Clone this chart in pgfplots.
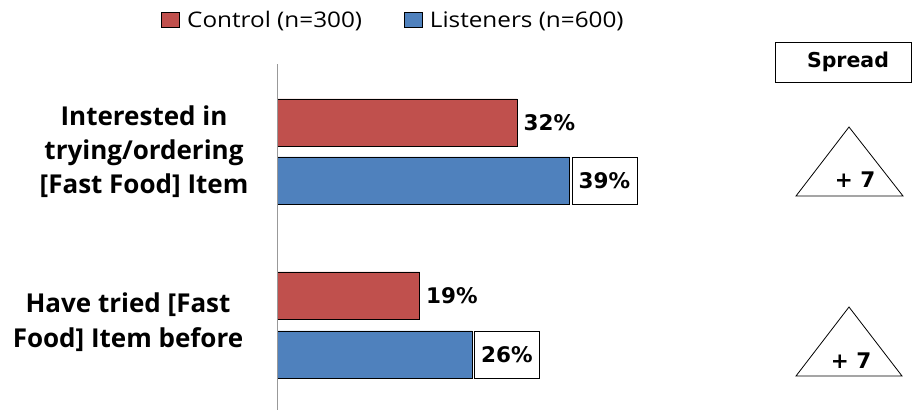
\documentclass[border=0pt]{standalone}
\usepackage{pgfplots}
\pgfplotsset{compat=1.18}
\usepackage{fontspec}
\setmainfont{Open Sans}
\newfontfamily\legfont{Open Sans}[FakeStretch=1.13]
\newfontfamily\vfont{DejaVu Sans}
\definecolor{cred}{HTML}{C0504D}
\definecolor{cblue}{HTML}{4F81BD}
\begin{document}
\begin{tikzpicture}[x=1pt,y=1pt]
\useasboundingbox (0,0) rectangle (914,410);
\begin{axis}[at={(277pt,0pt)}, anchor=origin, scale only axis,
  width=630pt, height=346pt, xmin=0, xmax=84, ymin=0, ymax=346,
  axis line style={draw=none}, ticks=none, clip=false,
  /pgf/number format/assume math mode=true,
  legend style={at={(0.185,1.127)}, anchor=center, draw=none, fill=none,
    legend columns=2, font=\legfont\fontsize{21.5}{24}\selectfont, inner sep=0pt,
    /tikz/every even column/.append style={column sep=40pt}},
  legend image code/.code={\draw[#1,draw=black] (0pt,-7.5pt) rectangle (18pt,7.5pt); \path (23pt,0pt);},
  point meta=x]
\addplot[xbar, bar width=47, bar shift=0pt, fill=cred, draw=black, line width=0.8pt,
  nodes near coords={\pgfmathprintnumber{\pgfplotspointmeta}\%},
  nodes near coords style={font=\vfont\bfseries\fontsize{21.5}{22}\selectfont, anchor=west, xshift=3pt, black}]
  coordinates {(32,287.5) (19,114.5)};
\addlegendentry{Control (n=300)}
\addplot[xbar, bar width=47, bar shift=0pt, fill=cblue, draw=black, line width=0.8pt,
  nodes near coords={\pgfmathprintnumber{\pgfplotspointmeta}\%},
  nodes near coords style={font=\vfont\bfseries\fontsize{21.5}{22}\selectfont, anchor=west, xshift=2pt, black,
    draw=black, fill=white, line width=0.8pt, minimum height=47pt, minimum width=65pt, inner sep=0pt}]
  coordinates {(39,229.5) (26,55.5)};
\addlegendentry{Listeners (n=600)}
\draw[gray!80, line width=1pt] (axis cs:0,0) -- (axis cs:0,346);
\end{axis}
\node[align=center, font=\bfseries\fontsize{26}{34}\selectfont] at (144,258) {Interested in\\trying/ordering\\{}[Fast Food] Item};
\node[align=center, font=\bfseries\fontsize{26}{35}\selectfont] at (128,88) {Have tried [Fast\\Food] Item before};
\draw[line width=0.8pt] (775,328) rectangle (911,368);
\node[font=\vfont\bfseries\fontsize{20.5}{22}\selectfont] at (848,348) {Spread};
\draw[line width=0.8pt] (796,214) -- (849,283) -- (903,214) -- cycle;
\node[font=\vfont\bfseries\fontsize{21.5}{22}\selectfont] at (855,230) {+ 7};
\draw[line width=0.8pt] (796,34) -- (849,103) -- (902,34) -- cycle;
\node[font=\vfont\bfseries\fontsize{21.5}{22}\selectfont] at (851,49) {+ 7};
\end{tikzpicture}
\end{document}
